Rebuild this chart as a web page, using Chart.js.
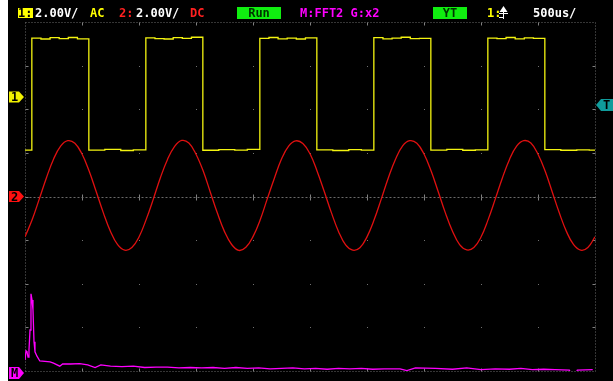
<!DOCTYPE html>
<html>
<head>
<meta charset="utf-8">
<script src="https://cdn.jsdelivr.net/npm/chart.js@4"></script>
<style>
  html, body { margin: 0; padding: 0; background: #000; }
  canvas { display: block; }
</style>
</head>
<body>
<canvas id="scope" width="613" height="381"></canvas>
<script>
// channel 1: square wave, volts (AC coupled, 2 V/div)
const ch1Time = [0,
    0.06, 0.14, 0.22, 0.30, 0.38, 0.46, 0.56, 0.70, 0.84, 0.95,
    1.06, 1.14, 1.22, 1.30, 1.38, 1.46, 1.56, 1.70, 1.84, 1.95,
    2.06, 2.14, 2.22, 2.30, 2.38, 2.46, 2.56, 2.70, 2.84, 2.95,
    3.06, 3.14, 3.22, 3.30, 3.38, 3.46, 3.56, 3.70, 3.84, 3.95,
    4.06, 4.14, 4.22, 4.30, 4.38, 4.46, 4.56, 4.70, 4.84, 4.95,
    5.0];
const ch1Volt = [-2.43,
    2.70, 2.66, 2.72, 2.68, 2.73, 2.67, -2.43, -2.40, -2.45, -2.42,
    2.71, 2.68, 2.66, 2.72, 2.69, 2.74, -2.44, -2.41, -2.43, -2.40,
    2.69, 2.73, 2.67, 2.70, 2.66, 2.71, -2.42, -2.45, -2.41, -2.43,
    2.72, 2.67, 2.70, 2.74, 2.68, 2.69, -2.43, -2.40, -2.44, -2.42,
    2.70, 2.68, 2.73, 2.67, 2.71, 2.69, -2.41, -2.44, -2.42, -2.43,
    -2.43];
const ch1Offset = 2.28;   // divisions
const trigLevel = -0.36;  // volts on ch1

// channel 2: sine, volts (DC, 2 V/div), one sample every 1/16 ms
const ch2Step = 0.0625;
const ch2Volt = [
    -1.85, -1.07, -0.12, 0.85, 1.71, 2.31, 2.56, 2.44, 1.95, 1.17, 0.22, -0.75, -1.60, -2.21, -2.46, -2.34,
    -1.86, -1.06, -0.13, 0.86, 1.70, 2.30, 2.57, 2.45, 1.94, 1.18, 0.21, -0.76, -1.61, -2.20, -2.47, -2.33,
    -1.84, -1.08, -0.11, 0.84, 1.72, 2.31, 2.55, 2.43, 1.96, 1.16, 0.23, -0.74, -1.60, -2.22, -2.46, -2.35,
    -1.85, -1.07, -0.12, 0.86, 1.71, 2.32, 2.56, 2.44, 1.95, 1.17, 0.22, -0.75, -1.59, -2.21, -2.45, -2.34,
    -1.86, -1.06, -0.12, 0.85, 1.70, 2.31, 2.56, 2.45, 1.94, 1.17, 0.21, -0.76, -1.61, -2.21, -2.46, -2.34,
    -1.85];

// math: FFT of ch2, kHz vs level in divisions above the M marker
const fftFreq = [0, 0.18, 0.35, 0.53, 0.7, 0.88, 1.05, 1.23, 1.4, 1.58, 1.75, 2.1, 2.6, 3.5, 4.4, 5.0,
    6.1, 6.6, 8.0, 9.6, 11.0, 12.3, 13.3, 15, 17, 19, 21, 23, 25, 27, 29, 31, 33, 35, 37, 39,
    41, 43, 45, 47, 49, 51, 53, 55, 57, 59, 61, 63, 65.8, 67, 68.5, 72, 75, 77.5, 80, 82.5,
    85, 87, 89, 91, 93, 95.5, 96.2, 96.9, 99.6];
const fftLevel = [0.25, 0.46, 0.44, 0.32, 0.48, 0.94, 1.77, 1.63, 1.40, 0.67, 0.44, 0.34, 0.23, 0.22, 0.21, 0.18,
    0.11, 0.16, 0.16, 0.17, 0.14, 0.08, 0.14, 0.11, 0.10, 0.11, 0.08, 0.09, 0.09, 0.07, 0.08, 0.07, 0.08, 0.06, 0.08, 0.06,
    0.07, 0.05, 0.06, 0.07, 0.05, 0.06, 0.04, 0.06, 0.05, 0.06, 0.04, 0.05, 0.05, 0.01, 0.07, 0.06, 0.04, 0.07, 0.03, 0.05,
    0.04, 0.06, 0.03, 0.04, 0.03, 0.02, -0.2, 0.02, 0.03];
const fftBase = -4;

const VPD = 2; // volts per division

const ch1Points = ch1Time.map((t, i) => ({ x: t, y: ch1Volt[i] / VPD + ch1Offset }));
const ch2Points = ch2Volt.map((v, i) => ({ x: i * ch2Step, y: v / VPD }));
const fftPoints = fftFreq.map((f, i) => ({ x: f, y: fftLevel[i] + fftBase }));

const FONT = "bold 12px 'DejaVu Sans Mono', monospace";

const graticule = {
    id: 'graticule',
    beforeDraw(chart) {
        const { ctx, width, height } = chart;
        ctx.save();
        ctx.fillStyle = '#000';
        ctx.fillRect(0, 0, width, height);
        ctx.fillStyle = '#fff';
        ctx.fillRect(0, 0, 8, height);
        ctx.restore();
    },
    beforeDatasetsDraw(chart) {
        const { ctx, scales } = chart;
        const x = scales.x, y = scales.y;
        const px = v => Math.round(x.getPixelForValue(v)) + 0.5;
        const py = v => Math.round(y.getPixelForValue(v)) + 0.5;
        ctx.save();
        ctx.lineWidth = 1;
        ctx.strokeStyle = '#6a6a6a';
        ctx.setLineDash([1, 2]);
        const L = px(0), R = px(5), T = py(4), B = py(-4), CY = py(0);
        ctx.beginPath();
        ctx.moveTo(L, T); ctx.lineTo(R, T);
        ctx.moveTo(L, B); ctx.lineTo(R, B);
        ctx.moveTo(L, T); ctx.lineTo(L, B);
        ctx.moveTo(R, T); ctx.lineTo(R, B);
        ctx.stroke();
        // centre line across, dotted
        ctx.setLineDash([2, 2]);
        ctx.beginPath();
        ctx.moveTo(L, CY); ctx.lineTo(R, CY);
        ctx.stroke();
        ctx.setLineDash([]);
        ctx.strokeStyle = '#808080';
        ctx.beginPath();
        for (let i = 1; i < 10; i++) {
            const xx = px(i * 0.5);
            ctx.moveTo(xx, CY - 3); ctx.lineTo(xx, CY + 3);
            ctx.moveTo(xx, T); ctx.lineTo(xx, T + 3);
            ctx.moveTo(xx, B); ctx.lineTo(xx, B - 3);
        }
        for (let j = -3; j <= 3; j++) {
            const yy = py(j);
            ctx.moveTo(L, yy); ctx.lineTo(L + 3, yy);
            ctx.moveTo(R, yy); ctx.lineTo(R - 3, yy);
        }
        ctx.stroke();
        ctx.fillStyle = '#707070';
        for (let i = 1; i < 10; i++) {
            for (let j = -3; j <= 3; j++) {
                ctx.fillRect(Math.round(x.getPixelForValue(i * 0.5)), Math.round(y.getPixelForValue(j)), 1, 1);
            }
        }
        ctx.restore();
    }
};

const drawTag = (ctx, x0, yc, w, h, color, label, pointLeft) => {
    ctx.fillStyle = color;
    ctx.beginPath();
    if (pointLeft) {
        ctx.moveTo(x0, yc);
        ctx.lineTo(x0 + 5, yc - h / 2);
        ctx.lineTo(x0 + w, yc - h / 2);
        ctx.lineTo(x0 + w, yc + h / 2);
        ctx.lineTo(x0 + 5, yc + h / 2);
    } else {
        ctx.moveTo(x0, yc - h / 2);
        ctx.lineTo(x0 + w - 5, yc - h / 2);
        ctx.lineTo(x0 + w, yc);
        ctx.lineTo(x0 + w - 5, yc + h / 2);
        ctx.lineTo(x0, yc + h / 2);
    }
    ctx.closePath();
    ctx.fill();
    ctx.fillStyle = '#000';
    ctx.font = FONT;
    ctx.textBaseline = 'middle';
    ctx.textAlign = 'center';
    ctx.fillText(label, pointLeft ? x0 + w / 2 + 2 : x0 + w / 2 - 2, yc + 1);
};

const overlay = {
    id: 'overlay',
    afterDraw(chart) {
        const { ctx, scales } = chart;
        const y = scales.y;
        ctx.save();
        // channel markers
        drawTag(ctx, 9, y.getPixelForValue(ch1Offset), 15, 11, '#f0f000', '1', false);
        drawTag(ctx, 9, y.getPixelForValue(0), 15, 11, '#ff1010', '2', false);
        drawTag(ctx, 9, y.getPixelForValue(fftBase) + 2, 15, 12, '#ff00ff', 'M', false);
        drawTag(ctx, 596, y.getPixelForValue(trigLevel / VPD + ch1Offset), 17, 12, '#109c9c', 'T', true);

        // status bar
        ctx.font = FONT;
        ctx.textBaseline = 'alphabetic';
        ctx.textAlign = 'left';
        const text = (s, x, c) => { ctx.fillStyle = c; ctx.fillText(s, x, 17); };
        ctx.fillStyle = '#ffff00';
        ctx.fillRect(18, 8, 15, 10);
        text('1:', 18, '#000');
        text('2.00V/', 35, '#ffffff');
        text('AC', 90, '#ffff00');
        text('2:', 119, '#ff2020');
        text('2.00V/', 136, '#ffffff');
        text('DC', 190, '#ff2020');
        ctx.fillStyle = '#10ee10';
        ctx.fillRect(237, 7, 44, 12);
        ctx.textAlign = 'center';
        text('Run', 259, '#003300');
        ctx.textAlign = 'left';
        text('M:FFT2 G:x2', 300, '#ff00ff');
        ctx.fillStyle = '#10ee10';
        ctx.fillRect(433, 7, 34, 12);
        ctx.textAlign = 'center';
        text('YT', 450, '#003300');
        ctx.textAlign = 'left';
        text('1:', 487, '#ffff00');
        // trigger edge symbol: up arrow on a rising edge
        ctx.strokeStyle = '#ffffff';
        ctx.lineWidth = 1;
        ctx.beginPath();
        ctx.moveTo(503.5, 11); ctx.lineTo(503.5, 19);
        ctx.moveTo(499, 13.5); ctx.lineTo(508, 13.5);
        ctx.moveTo(499, 17.5); ctx.lineTo(503.5, 17.5);
        ctx.stroke();
        ctx.fillStyle = '#ffffff';
        ctx.beginPath();
        ctx.moveTo(503.5, 6); ctx.lineTo(499.5, 12); ctx.lineTo(507.5, 12);
        ctx.closePath();
        ctx.fill();
        text('500us/', 533, '#ffffff');
        ctx.restore();
    }
};

new Chart(document.getElementById('scope'), {
    type: 'line',
    data: {
        datasets: [
            {
                label: 'CH1',
                data: ch1Points,
                xAxisID: 'x',
                yAxisID: 'y',
                borderColor: '#f4f410',
                borderWidth: 1.3,
                pointRadius: 0,
                stepped: true
            },
            {
                label: 'CH2',
                data: ch2Points,
                xAxisID: 'x',
                yAxisID: 'y',
                borderColor: '#e01010',
                borderWidth: 1.3,
                pointRadius: 0,
                tension: 0.4
            },
            {
                label: 'FFT2',
                data: fftPoints,
                xAxisID: 'xf',
                yAxisID: 'y',
                borderColor: '#ff00ff',
                borderWidth: 1.3,
                pointRadius: 0,
                tension: 0
            }
        ]
    },
    options: {
        responsive: false,
        devicePixelRatio: 1,
        animation: false,
        layout: { padding: { left: 25, right: 18, top: 22, bottom: 10 } },
        scales: {
            x: { type: 'linear', min: 0, max: 5, display: false },
            xf: { type: 'linear', min: 0, max: 100, display: false },
            y: { type: 'linear', min: -4, max: 4, display: false }
        },
        plugins: {
            legend: { display: false },
            tooltip: { enabled: false }
        }
    },
    plugins: [graticule, overlay]
});
</script>
</body>
</html>
